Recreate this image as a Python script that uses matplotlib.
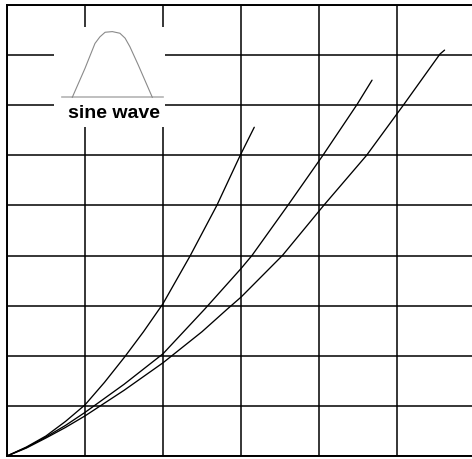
import matplotlib
matplotlib.use("Agg")
import matplotlib.pyplot as plt

# Curves (x in grid columns, y in grid rows)
c1_x = [0, 0.25, 0.5, 0.75, 1.0, 1.25, 1.51, 1.75, 2.0, 2.35, 2.69, 2.99, 3.17]
c1_y = [0, 0.18, 0.40, 0.69, 1.02, 1.47, 1.98, 2.48, 3.04, 4.00, 5.00, 6.00, 6.56]
c2_x = [0, 0.25, 0.5, 0.75, 1.0, 1.5, 2.0, 2.54, 3.0, 3.14, 3.6, 4.05, 4.49, 4.68]
c2_y = [0, 0.17, 0.38, 0.61, 0.87, 1.43, 2.04, 2.94, 3.74, 4.00, 5.00, 6.00, 7.02, 7.50]
c3_x = [0, 0.25, 0.5, 0.75, 1.0, 1.5, 2.0, 2.5, 2.83, 3.0, 3.53, 4.06, 4.61, 5.09, 5.55, 5.61]
c3_y = [0, 0.16, 0.36, 0.57, 0.80, 1.31, 1.86, 2.48, 2.94, 3.17, 4.00, 5.00, 6.00, 7.02, 8.02, 8.10]

# Inset hump (sine wave icon), normalised position and height
hump_t = [-1.0, -0.683, -0.433, -0.31, -0.18, 0.0, 0.19, 0.32, 0.44, 0.65, 1.0]
hump_h = [0.0, 0.44, 0.82, 0.92, 0.99, 1.0, 0.975, 0.90, 0.77, 0.49, 0.0]
inset_label = "sine wave"

W, H = 472, 459
fig = plt.figure(figsize=(W / 100, H / 100), dpi=100)
ax = fig.add_axes([7 / W, 3 / H, 468 / W, 451 / H])
ax.set_xlim(0, 6)
ax.set_ylim(0, 9)
ax.set_xticks(range(7))
ax.set_yticks(range(10))
ax.tick_params(length=0, labelbottom=False, labelleft=False)
ax.grid(True, color="black", linewidth=1.1)
for s in ax.spines.values():
    s.set_linewidth(1.4)
    s.set_color("black")

for xs, ys in [(c1_x, c1_y), (c2_x, c2_y), (c3_x, c3_y)]:
    ax.plot(xs, ys, color="black", linewidth=0.95,
            solid_joinstyle="round", solid_capstyle="round")

# inset box (coordinates in pixels of the figure)
ins = fig.add_axes([54 / W, 1 - 127 / H, 111 / W, 100 / H])
ins.set_facecolor("white")
for s in ins.spines.values():
    s.set_visible(False)
ins.set_xticks([])
ins.set_yticks([])
ins.set_xlim(54, 165)
ins.set_ylim(127, 27)
cx, half_w = 112.3, 40.0
base, peak = 97.3, 65.7
ins.plot([62, 163], [base, base], color="#b4b4b4", linewidth=1.2)
ins.plot([cx + half_w * t for t in hump_t],
         [base - peak * h for h in hump_h], color="#8a8a8a", linewidth=0.8)
ins.text(114, 113.5, inset_label, ha="center", va="center", fontsize=14,
         fontweight="bold", family="Liberation Sans", color="black")

fig.savefig("out.png", dpi=100)
